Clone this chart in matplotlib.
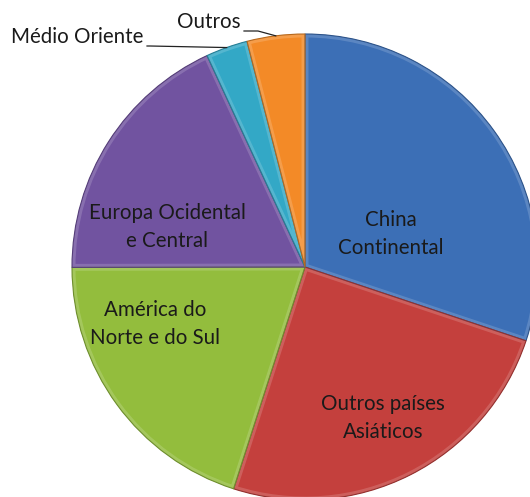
import numpy as np
import matplotlib
matplotlib.use("Agg")
import matplotlib.pyplot as plt
from matplotlib.colors import to_rgb
from matplotlib.patches import Wedge

# shares by region (%), clockwise from 12 o'clock
regions = ["China\nContinental", "Outros países\nAsiáticos", "América do\nNorte e do Sul",
           "Europa Ocidental\ne Central", "Médio Oriente", "Outros"]
shares = [30.1, 24.8, 20.0, 18.1, 2.9, 4.0]
colors = ["#3c6fb6", "#c4403d", "#93bd3d", "#7153a0", "#33a8c6", "#f38a27"]

plt.rcParams['font.family'] = ['Lato', 'DejaVu Sans']

W, H = 530, 497
fig = plt.figure(figsize=(W / 100, H / 100), dpi=100)
ax = fig.add_axes([0, 0, 1, 1])

# pie centre / radius in pixels
cx, cy, R = 305, 267, 233

wedges, _ = ax.pie(shares, colors=colors, startangle=90, counterclock=False,
                   radius=1, wedgeprops=dict(edgecolor="none"))
ax.set_aspect('auto')
ax.set_xlim(-cx / R, (W - cx) / R)
ax.set_ylim(-(H - cy) / R, cy / R)
ax.axis('off')

# soft bevel: lighter rim clipped inside each slice, thin dark seam
for w, c in zip(wedges, colors):
    light = tuple(min(1, v + (1 - v) * 0.3) for v in to_rgb(c))
    dark = tuple(v * 0.75 for v in to_rgb(c))
    rim = Wedge(w.center, w.r, w.theta1, w.theta2, facecolor="none",
                edgecolor=light, linewidth=5, alpha=0.55)
    ax.add_patch(rim)
    rim.set_clip_path(w)
    seam = Wedge(w.center, w.r, w.theta1, w.theta2, facecolor="none",
                 edgecolor=dark, linewidth=0.8)
    ax.add_patch(seam)


def px(x, y):
    return (x - cx) / R, (cy - y) / R


txt = dict(fontsize=14.8, color="#1a1a1a", ha="center", va="center", linespacing=1.5)
inside_pos = [(391, 234), (383, 418), (155, 324), (167, 227)]
for name, (x, y) in zip(regions[:4], inside_pos):
    ax.text(*px(x, y), name, **txt)

# outside labels with leader lines to the slice edge
for w, name, (tx, ty), bend in zip(wedges[4:], regions[4:], [(143, 46), (240, 31)],
                                   [(150, 46), (258, 31)]):
    mid = np.deg2rad((w.theta1 + w.theta2) / 2)
    ex, ey = np.cos(mid), np.sin(mid)
    ax.text(*px(tx, ty - 3), name, fontsize=14.8, color="#1a1a1a", ha="right", va="baseline")
    bx, by = px(*bend)
    sx, sy = px(tx + 4, ty)
    ax.plot([sx, bx, ex], [sy, by, ey], color="#222222", lw=0.9)

fig.savefig("out.png", dpi=100)
